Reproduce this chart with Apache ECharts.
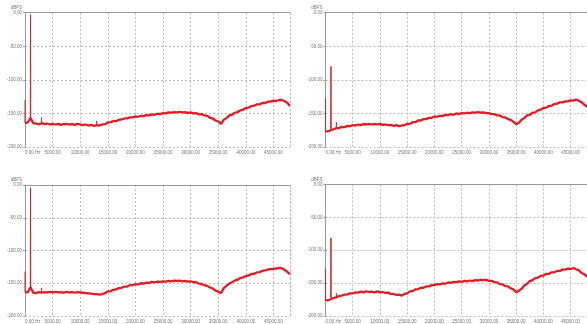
<!DOCTYPE html>
<html>
<head>
<meta charset="utf-8">
<script src="https://cdn.jsdelivr.net/npm/echarts@6/dist/echarts.min.js"></script>
<style>
  html, body { margin: 0; padding: 0; background: #fff; }
  #chart { width: 587px; height: 324px; }
</style>
</head>
<body>
<div id="chart"></div>
<script>
// spectrum sampled every 500 Hz, 0 .. 48000 Hz (dBFS)
const FREQ_STEP = 500;
const FREQ_MAX = 48000;

const levelsTopLeft = [
  -164, -163.5, -157, -164.5, -165, -166.5, -164.5, -166, -165, -166.5,
  -165.5, -166.5, -165.5, -167, -166, -165.5, -166.5, -166, -167, -165.5,
  -166.5, -167.5, -166.5, -168, -167, -168.5, -167.5, -168, -166.5, -166,
  -163.5, -163, -161.5, -161.5, -159.5, -159, -157.5, -157.5, -156, -156,
  -154.5, -155, -153.5, -154, -152.5, -153, -151.5, -152, -150.5, -151,
  -149.5, -150, -148.5, -149, -148, -148.5, -147.5, -148.5, -148, -149.5,
  -148.5, -150, -149.5, -151.5, -151, -153, -153.5, -156.5, -157.5, -160.5,
  -162, -165.5, -159.5, -157, -153, -152, -149, -148, -145.5, -144.5,
  -142, -141.5, -139, -138.5, -136.5, -136.5, -134.5, -134.5, -132.5, -132.5,
  -131, -131.5, -130, -130, -131.5, -134, -139
];

const levelsTopRight = [
  -177, -176.5, -175, -173.5, -172, -171.5, -170, -170.5, -168.5, -169,
  -167.5, -168, -166.5, -167.5, -166, -166.5, -165.5, -166.5, -165.5, -166.5,
  -165.5, -167, -166.5, -167.5, -167, -168.5, -167.5, -169, -168, -167.5,
  -165.5, -165.5, -163, -163, -160.5, -160.5, -158.5, -158.5, -156.5, -156.5,
  -154.5, -155, -153.5, -154, -152, -152.5, -151, -152, -150, -151,
  -149.5, -150, -149, -149.5, -148.5, -149, -148, -149, -148.5, -149.5,
  -149.5, -151, -151, -153, -153, -155.5, -156, -158.5, -159.5, -162.5,
  -166, -164, -159.5, -157, -153, -152, -149, -148.5, -145.5, -144.5,
  -142, -141.5, -139, -138.5, -136, -135.5, -133.5, -133.5, -132, -132,
  -130.5, -131, -129.5, -131, -133.5, -137, -140
];

const levelsBottomLeft = [
  -163.5, -164, -156, -164.5, -165, -163.5, -164.5, -163.5, -164, -163,
  -164, -163, -164, -163.5, -164.5, -163, -164, -163.5, -164.5, -163.5,
  -164, -164.5, -165, -165.5, -166, -166.5, -166.5, -167.5, -166.5, -165,
  -162.5, -162, -160, -159.5, -157.5, -157, -155, -155, -153, -153,
  -151.5, -152, -150, -150.5, -149, -149.5, -148, -148.5, -147.5, -148,
  -147, -147.5, -146.5, -147, -146, -146.5, -146, -147, -146.5, -147.5,
  -147, -148.5, -148.5, -150.5, -151.5, -153, -154, -156.5, -158, -161,
  -163, -165, -157.5, -154, -150.5, -148.5, -146, -144.5, -142, -141,
  -139, -138, -136, -135.5, -133.5, -133, -131, -130.5, -129, -128.5,
  -128, -127.5, -126.5, -127, -129.5, -132.5, -136
];

const levelsBottomRight = [
  -176.5, -176, -174.5, -172.5, -171.5, -169.5, -169, -167.5, -167, -165.5,
  -165.5, -164, -164.5, -163, -164, -162.5, -163.5, -163, -164, -162.5,
  -164, -163.5, -165, -164.5, -166.5, -166.5, -168, -167.5, -169, -166.5,
  -165.5, -162.5, -162, -159.5, -159, -157, -157, -155, -155, -153,
  -153, -151.5, -152, -150.5, -151, -149, -149.5, -148, -148.5, -147.5,
  -148, -146.5, -147.5, -146, -147, -145.5, -146, -145, -145.5, -145,
  -146.5, -146.5, -148.5, -149, -151.5, -152, -154.5, -155, -158, -159.5,
  -164, -161.5, -158.5, -153.5, -151, -147, -145.5, -142.5, -141.5, -139,
  -138.5, -136, -136, -133.5, -133.5, -131.5, -131.5, -129.5, -129.5, -128,
  -128.5, -127, -129, -130.5, -134.5, -136.5, -140
];

// DC bin and 1 kHz test tone per panel
const dcTop = [-130, -128, -132, -128];
const toneFreq = 1000;
const toneTop = [-3, -80, -4, -81];
const toneBase = [-160, -174, -158, -173];
// small harmonic bumps [freq, level] per panel
const harmonics = [
  [[3000, -156], [13000, -161]],
  [[2000, -163]],
  [[3000, -157]],
  [[2000, -165]]
];

const yTicks = [0, -50, -100, -150, -200];

const panels = [
  { levels: levelsTopLeft, left: 25, top: 12.7, height: 134.3 },
  { levels: levelsTopRight, left: 325.5, top: 12.7, height: 134.3 },
  { levels: levelsBottomLeft, left: 25, top: 185, height: 134 },
  { levels: levelsBottomRight, left: 325.5, top: 184.5, height: 134.5 }
];

const red = '#e31c24';
const grids = [], xAxes = [], yAxes = [], series = [];

function spikeSeries(i, pts, width) {
  return {
    type: 'line', xAxisIndex: i, yAxisIndex: i, symbol: 'none', silent: true,
    data: pts, lineStyle: { color: '#d41f28', width: width }
  };
}

panels.forEach((p, i) => {
  grids.push({ left: p.left, top: p.top, width: 265, height: p.height });
  xAxes.push({
    type: 'value', gridIndex: i, min: 0, max: FREQ_MAX, interval: 5000,
    axisLine: { lineStyle: { color: '#999', width: 1 } },
    axisTick: { show: false },
    splitLine: { lineStyle: { color: '#bbb', type: [2, 2] } },
    axisLabel: {
      fontSize: 4.5, color: '#777', margin: 3, fontFamily: 'Liberation Sans',
      showMaxLabel: false, alignMinLabel: 'left',
      formatter: v => v === 0 ? '0.00 Hz' : v.toFixed(2)
    }
  });
  yAxes.push({
    type: 'value', gridIndex: i, min: yTicks[yTicks.length - 1], max: yTicks[0], interval: 50,
    name: 'dBFS', nameLocation: 'end', nameGap: 2,
    nameTextStyle: { fontSize: 4.5, color: '#777', align: 'right', padding: [0, 3, 0, 0], fontFamily: 'Liberation Sans' },
    axisLine: { show: true, lineStyle: { color: '#999', width: 1 } },
    axisTick: { show: true, length: 2, lineStyle: { color: '#999' } },
    splitLine: { lineStyle: { color: '#bbb', type: [2, 2] } },
    axisLabel: {
      fontSize: 4.5, color: '#777', margin: 3, fontFamily: 'Liberation Sans',
      formatter: v => v.toFixed(2)
    }
  });
  series.push({
    type: 'line', xAxisIndex: i, yAxisIndex: i, symbol: 'none', silent: true,
    data: p.levels.map((v, k) => [k * FREQ_STEP, v]),
    lineStyle: { color: red, width: 2.3 },
    markLine: {
      silent: true, symbol: 'none', label: { show: false },
      lineStyle: { color: '#bbb', type: [2, 2], width: 1 },
      data: [{ xAxis: FREQ_MAX }]
    }
  });
  const base0 = p.levels[0];
  series.push(spikeSeries(i, [[0, base0], [0, dcTop[i]]], 1));
  series.push(spikeSeries(i, [[toneFreq - 40, toneBase[i]], [toneFreq, toneTop[i]], [toneFreq + 40, toneBase[i]]], 1));
  harmonics[i].forEach(h => {
    const k = Math.round(h[0] / FREQ_STEP);
    series.push(spikeSeries(i, [[h[0] - 30, p.levels[k]], [h[0], h[1]], [h[0] + 30, p.levels[k]]], 0.8));
  });
});

const chart = echarts.init(document.getElementById('chart'), null, { renderer: 'canvas' });
chart.setOption({
  backgroundColor: '#fff',
  animation: false,
  grid: grids,
  xAxis: xAxes,
  yAxis: yAxes,
  series: series
});
</script>
</body>
</html>
